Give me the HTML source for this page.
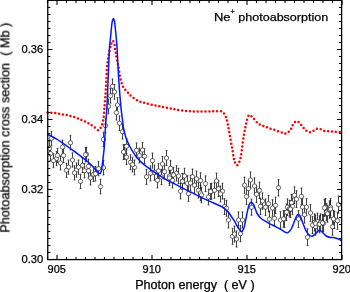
<!DOCTYPE html>
<html><head><meta charset="utf-8"><style>
html,body{margin:0;padding:0;background:#fff;width:350px;height:292px;overflow:hidden}
svg{display:block}
text{will-change:transform}
text{font-family:"Liberation Sans",sans-serif;fill:#000;stroke:#000;stroke-width:0.25px}
</style></head><body>
<svg width="350" height="292" viewBox="0 0 350 292">
<rect width="350" height="292" fill="#fff"/>
<path d="M47.50,112.50 C48.25,112.53 50.60,112.58 52.00,112.70 C53.40,112.82 54.62,113.00 55.90,113.20 C57.18,113.40 58.40,113.67 59.70,113.90 C61.00,114.13 62.42,114.38 63.70,114.60 C64.98,114.82 66.20,114.95 67.40,115.20 C68.60,115.45 69.67,115.75 70.90,116.10 C72.13,116.45 73.52,116.87 74.80,117.30 C76.08,117.73 77.25,118.13 78.60,118.70 C79.95,119.27 81.53,120.08 82.90,120.70 C84.27,121.32 85.57,121.77 86.80,122.40 C88.03,123.03 89.02,123.70 90.30,124.50 C91.58,125.30 93.17,126.25 94.50,127.20 C95.83,128.15 97.18,130.28 98.30,130.20 C99.42,130.12 100.48,128.00 101.20,126.70 C101.92,125.40 102.22,123.82 102.60,122.40 C102.98,120.98 103.27,119.62 103.50,118.20 C103.73,116.78 103.87,115.47 104.00,113.90 C104.13,112.33 104.17,110.65 104.30,108.80 C104.43,106.95 104.60,105.23 104.80,102.80 C105.00,100.37 105.30,97.05 105.50,94.20 C105.70,91.35 105.83,88.55 106.00,85.70 C106.17,82.85 106.37,79.95 106.50,77.10 C106.63,74.25 106.60,71.17 106.80,68.60 C107.00,66.03 107.45,63.63 107.70,61.70 C107.95,59.77 108.02,58.68 108.30,57.00 C108.58,55.32 109.03,53.35 109.40,51.60 C109.77,49.85 110.18,47.83 110.50,46.50 C110.82,45.17 110.92,44.55 111.30,43.60 C111.68,42.65 112.28,40.73 112.80,40.80 C113.32,40.87 114.02,42.62 114.40,44.00 C114.78,45.38 114.88,47.68 115.10,49.10 C115.32,50.52 115.48,51.22 115.70,52.50 C115.92,53.78 116.17,55.38 116.40,56.80 C116.63,58.22 116.83,59.72 117.10,61.00 C117.37,62.28 117.72,63.23 118.00,64.50 C118.28,65.77 118.52,66.78 118.80,68.60 C119.08,70.42 119.35,73.42 119.70,75.40 C120.05,77.38 120.48,78.93 120.90,80.50 C121.32,82.07 121.70,83.52 122.20,84.80 C122.70,86.08 123.07,87.02 123.90,88.20 C124.73,89.38 125.98,90.57 127.20,91.90 C128.42,93.23 129.35,94.70 131.20,96.20 C133.05,97.70 135.97,99.75 138.30,100.90 C140.63,102.05 142.63,102.40 145.20,103.10 C147.77,103.80 150.85,104.47 153.70,105.10 C156.55,105.73 159.43,106.32 162.30,106.90 C165.17,107.48 168.75,108.18 170.90,108.60 C173.05,109.02 173.35,109.08 175.20,109.40 C177.05,109.72 179.43,110.20 182.00,110.50 C184.57,110.80 188.03,111.03 190.60,111.20 C193.17,111.37 194.83,111.45 197.40,111.50 C199.97,111.55 203.28,111.53 206.00,111.50 C208.72,111.47 211.28,111.35 213.70,111.30 C216.12,111.25 218.87,110.92 220.50,111.20 C222.13,111.48 222.67,112.12 223.50,113.00 C224.33,113.88 224.98,115.50 225.50,116.50 C226.02,117.50 226.13,117.22 226.60,119.00 C227.07,120.78 227.77,124.50 228.30,127.20 C228.83,129.90 229.27,132.25 229.80,135.20 C230.33,138.15 231.03,142.28 231.50,144.90 C231.97,147.52 232.25,148.77 232.60,150.90 C232.95,153.03 233.23,155.85 233.60,157.70 C233.97,159.55 234.25,160.73 234.80,162.00 C235.35,163.27 236.18,165.25 236.90,165.30 C237.62,165.35 238.53,163.42 239.10,162.30 C239.67,161.18 239.95,159.93 240.30,158.60 C240.65,157.27 240.78,157.07 241.20,154.30 C241.62,151.53 242.25,145.77 242.80,142.00 C243.35,138.23 243.93,134.83 244.50,131.70 C245.07,128.57 245.70,125.48 246.20,123.20 C246.70,120.92 247.07,119.30 247.50,118.00 C247.93,116.70 248.30,115.80 248.80,115.40 C249.30,115.00 249.87,115.30 250.50,115.60 C251.13,115.90 251.77,116.32 252.60,117.20 C253.43,118.08 254.37,119.70 255.50,120.90 C256.63,122.10 258.08,123.53 259.40,124.40 C260.72,125.27 262.10,125.60 263.40,126.10 C264.70,126.60 265.95,126.95 267.20,127.40 C268.45,127.85 269.62,128.37 270.90,128.80 C272.18,129.23 273.52,129.52 274.90,130.00 C276.28,130.48 277.77,131.22 279.20,131.70 C280.63,132.18 282.27,132.62 283.50,132.90 C284.73,133.18 285.43,133.88 286.60,133.40 C287.77,132.92 289.57,131.22 290.50,130.00 C291.43,128.78 291.48,127.38 292.20,126.10 C292.92,124.82 294.02,123.05 294.80,122.30 C295.58,121.55 296.22,121.60 296.90,121.60 C297.58,121.60 297.98,121.47 298.90,122.30 C299.82,123.13 301.25,125.25 302.40,126.60 C303.55,127.95 304.58,129.48 305.80,130.40 C307.02,131.32 308.57,131.93 309.70,132.10 C310.83,132.27 311.45,131.95 312.60,131.40 C313.75,130.85 315.28,129.17 316.60,128.80 C317.92,128.43 319.22,128.85 320.50,129.20 C321.78,129.55 323.00,130.57 324.30,130.90 C325.60,131.23 326.95,131.12 328.30,131.20 C329.65,131.28 331.07,131.32 332.40,131.40 C333.73,131.48 334.78,131.58 336.30,131.70 C337.82,131.82 340.63,132.03 341.50,132.10" fill="none" stroke="#f00" stroke-width="2.5" stroke-linecap="round" stroke-dasharray="0 3.88"/>
<g stroke="#222" stroke-width="0.85" fill="none"><path d="M51.50,131.40V145.40M50.60,131.40H52.40M50.60,145.40H52.40M70.50,135.74V149.86M69.60,135.74H71.40M69.60,149.86H71.40M62.50,140.09V154.11M61.60,140.09H63.40M61.60,154.11H63.40M50.50,146.60V160.60M49.60,146.60H51.40M49.60,160.60H51.40M86.50,147.25V161.55M85.60,147.25H87.40M85.60,161.55H87.40M63.50,148.48V162.52M62.60,148.48H64.40M62.60,162.52H64.40M56.50,151.60V165.60M55.60,151.60H57.40M55.60,165.60H57.40M53.50,153.70V167.70M52.60,153.70H54.40M52.60,167.70H54.40M60.50,155.90V169.90M59.60,155.90H61.40M59.60,169.90H61.40M72.50,152.93V167.07M71.60,152.93H73.40M71.60,167.07H73.40M68.50,160.05V174.15M67.60,160.05H69.40M67.60,174.15H69.40M66.50,163.26V177.34M65.60,163.26H67.40M65.60,177.34H67.40M76.50,162.91V177.09M75.60,162.91H77.40M75.60,177.09H77.40M78.50,159.99V174.21M77.60,159.99H79.40M77.60,174.21H79.40M82.50,158.27V172.53M81.60,158.27H83.40M81.60,172.53H83.40M84.50,163.56V177.84M83.60,163.56H85.40M83.60,177.84H85.40M88.50,159.24V173.56M87.60,159.24H89.40M87.60,173.56H89.40M74.50,165.82V179.98M73.60,165.82H75.40M73.60,179.98H75.40M90.50,170.73V185.07M89.60,170.73H91.40M89.60,185.07H91.40M93.50,167.11V181.49M92.60,167.11H94.40M92.60,181.49H94.40M80.50,174.28V188.52M79.60,174.28H81.40M79.60,188.52H81.40M95.50,166.50V180.90M94.60,166.50H96.40M94.60,180.90H96.40M98.50,161.38V175.82M97.60,161.38H99.40M97.60,175.82H99.40M100.50,179.37V193.83M99.60,179.37H101.40M99.60,193.83H101.40M103.50,160.45V174.95M102.60,160.45H104.40M102.60,174.95H104.40M88.50,163.64V177.96M87.60,163.64H89.40M87.60,177.96H89.40M124.50,144.63V159.37M123.60,144.63H125.40M123.60,159.37H125.40M103.50,132.05V146.55M102.60,132.05H104.40M102.60,146.55H104.40M105.50,118.44V132.96M104.60,118.44H106.40M104.60,132.96H106.40M112.50,79.00V93.60M111.60,79.00H113.40M111.60,93.60H113.40M114.50,84.59V99.21M113.60,84.59H115.40M113.60,99.21H115.40M110.50,88.51V103.09M109.60,88.51H111.40M109.60,103.09H111.40M108.50,99.12V113.68M107.60,99.12H109.40M107.60,113.68H109.40M117.50,97.67V112.33M116.60,97.67H118.40M116.60,112.33H118.40M116.50,105.38V120.02M115.60,105.38H117.40M115.60,120.02H117.40M119.50,115.86V130.54M118.60,115.86H120.40M118.60,130.54H120.40M122.50,124.34V139.06M121.60,124.34H123.40M121.60,139.06H123.40M126.50,138.92V153.68M125.60,138.92H127.40M125.60,153.68H127.40M136.50,142.96V157.84M135.60,142.96H137.40M135.60,157.84H137.40M142.50,142.53V157.47M141.60,142.53H143.40M141.60,157.47H143.40M123.50,144.64V159.36M122.60,144.64H124.40M122.60,159.36H124.40M126.50,149.82V164.58M125.60,149.82H127.40M125.60,164.58H127.40M130.50,154.90V169.70M129.60,154.90H131.40M129.60,169.70H131.40M134.50,159.97V174.83M133.60,159.97H135.40M133.60,174.83H135.40M139.50,148.05V162.95M138.60,148.05H140.40M138.60,162.95H140.40M144.50,148.82V163.78M143.60,148.82H145.40M143.60,163.78H145.40M152.50,153.07V168.13M151.60,153.07H153.40M151.60,168.13H153.40M146.50,169.41V184.39M145.60,169.41H147.40M145.60,184.39H147.40M150.50,165.88V180.92M149.60,165.88H151.40M149.60,180.92H151.40M154.50,165.06V180.14M153.60,165.06H155.40M153.60,180.14H155.40M158.50,163.34V178.46M157.60,163.34H159.40M157.60,178.46H159.40M162.50,156.41V171.59M161.60,156.41H163.40M161.60,171.59H163.40M166.50,150.39V165.61M165.60,150.39H167.40M165.60,165.61H167.40M164.50,164.10V179.30M163.60,164.10H165.40M163.60,179.30H165.40M157.50,172.74V187.86M156.60,172.74H158.40M156.60,187.86H158.40M161.50,169.32V184.48M160.60,169.32H162.40M160.60,184.48H162.40M170.50,160.67V175.93M169.60,160.67H171.40M169.60,175.93H171.40M169.50,168.37V183.63M168.60,168.37H170.40M168.60,183.63H170.40M172.50,172.66V187.94M171.60,172.66H173.40M171.60,187.94H173.40M176.50,165.73V181.07M175.60,165.73H177.40M175.60,181.07H177.40M178.50,168.32V183.68M177.60,168.32H179.40M177.60,183.68H179.40M182.50,173.50V188.90M181.60,173.50H183.40M181.60,188.90H183.40M184.50,168.29V183.71M183.60,168.29H185.40M183.60,183.71H185.40M187.50,175.77V191.23M186.60,175.77H188.40M186.60,191.23H188.40M190.50,175.25V190.75M189.60,175.25H191.40M189.60,190.75H191.40M192.50,169.04V184.56M191.60,169.04H193.40M191.60,184.56H193.40M196.50,171.02V186.58M195.60,171.02H197.40M195.60,186.58H197.40M200.50,172.80V188.40M199.60,172.80H201.40M199.60,188.40H201.40M205.50,175.87V191.53M204.60,175.87H206.40M204.60,191.53H206.40M216.50,173.11V188.89M215.60,173.11H217.40M215.60,188.89H217.40M180.50,183.51V198.89M179.60,183.51H181.40M179.60,198.89H181.40M188.50,185.97V201.43M187.60,185.97H189.40M187.60,201.43H189.40M194.50,177.43V192.97M193.60,177.43H195.40M193.60,192.97H195.40M198.50,182.51V198.09M197.60,182.51H199.40M197.60,198.09H199.40M211.50,183.33V199.07M210.60,183.33H212.40M210.60,199.07H212.40M214.50,182.42V198.18M213.60,182.42H215.40M213.60,198.18H215.40M218.50,180.69V196.51M217.60,180.69H219.40M217.60,196.51H219.40M222.50,183.27V199.13M221.60,183.27H223.40M221.60,199.13H223.40M224.50,198.66V214.54M223.60,198.66H225.40M223.60,214.54H225.40M226.50,200.35V216.25M225.60,200.35H227.40M225.60,216.25H227.40M244.50,177.15V193.25M243.60,177.15H245.40M243.60,193.25H245.40M250.50,171.91V188.09M249.60,171.91H251.40M249.60,188.09H251.40M248.50,180.52V196.68M247.60,180.52H249.40M247.60,196.68H249.40M254.50,177.89V194.11M253.60,177.89H255.40M253.60,194.11H255.40M259.50,182.16V198.44M258.60,182.16H260.40M258.60,198.44H260.40M256.50,186.18V202.42M255.60,186.18H257.40M255.60,202.42H257.40M246.50,188.43V204.57M245.60,188.43H247.40M245.60,204.57H247.40M278.50,179.45V195.95M277.60,179.45H279.40M277.60,195.95H279.40M228.50,212.04V227.96M227.60,212.04H229.40M227.60,227.96H229.40M232.50,228.31V244.29M231.60,228.31H233.40M231.60,244.29H233.40M236.50,230.99V247.01M235.60,230.99H237.40M235.60,247.01H237.40M234.50,226.00V242.00M233.60,226.00H235.40M233.60,242.00H235.40M240.50,225.67V241.73M239.60,225.67H241.40M239.60,241.73H241.40M238.50,211.98V228.02M237.60,211.98H239.40M237.60,228.02H239.40M242.50,211.96V228.04M241.60,211.96H243.40M241.60,228.04H243.40M251.50,199.11V215.29M250.60,199.11H252.40M250.60,215.29H252.40M260.50,198.15V214.45M259.60,198.15H261.40M259.60,214.45H261.40M265.50,199.03V215.37M264.60,199.03H266.40M264.60,215.37H266.40M268.50,195.51V211.89M267.60,195.51H269.40M267.60,211.89H269.40M272.50,199.79V216.21M271.60,199.79H273.40M271.60,216.21H273.40M275.50,197.17V213.63M274.60,197.17H276.40M274.60,213.63H276.40M269.50,211.00V227.40M268.60,211.00H270.40M268.60,227.40H270.40M274.50,210.07V226.53M273.60,210.07H275.40M273.60,226.53H275.40M280.50,211.74V228.26M279.60,211.74H281.40M279.60,228.26H281.40M294.50,186.86V203.54M293.60,186.86H295.40M293.60,203.54H295.40M296.50,190.75V207.45M295.60,190.75H297.40M295.60,207.45H297.40M301.50,188.02V204.78M300.60,188.02H302.40M300.60,204.78H302.40M287.50,198.90V215.50M286.60,198.90H288.40M286.60,215.50H288.40M292.50,197.97V214.63M291.60,197.97H293.40M291.60,214.63H293.40M302.50,198.71V215.49M301.60,198.71H303.40M301.60,215.49H303.40M306.50,198.69V215.51M305.60,198.69H307.40M305.60,215.51H307.40M325.50,198.68V215.72M324.60,198.68H326.40M324.60,215.72H326.40M330.50,198.65V215.75M329.60,198.65H331.40M329.60,215.75H331.40M338.50,196.01V213.19M337.60,196.01H339.40M337.60,213.19H339.40M291.50,194.38V211.02M290.60,194.38H292.40M290.60,211.02H292.40M289.50,200.39V217.01M288.60,200.39H290.40M288.60,217.01H290.40M286.50,203.91V220.49M285.60,203.91H287.40M285.60,220.49H287.40M284.50,210.72V227.28M283.60,210.72H285.40M283.60,227.28H285.40M298.50,210.64V227.36M297.60,210.64H299.40M297.60,227.36H299.40M304.50,206.30V223.10M303.60,206.30H305.40M303.60,223.10H305.40M310.50,204.57V221.43M309.60,204.57H311.40M309.60,221.43H311.40M307.50,228.79V245.61M306.60,228.79H308.40M306.60,245.61H308.40M314.50,213.95V230.85M313.60,213.95H315.40M313.60,230.85H315.40M317.50,213.13V230.07M316.60,213.13H318.40M316.60,230.07H318.40M320.50,213.91V230.89M319.60,213.91H321.40M319.60,230.89H321.40M323.50,214.79V231.81M322.60,214.79H324.40M322.60,231.81H324.40M315.50,218.24V235.16M314.60,218.24H316.40M314.60,235.16H316.40M324.50,199.39V216.41M323.60,199.39H325.40M323.60,216.41H325.40M326.50,203.68V220.72M325.60,203.68H327.40M325.60,220.72H327.40M329.50,201.06V218.14M328.60,201.06H330.40M328.60,218.14H330.40M332.50,218.14V235.26M331.60,218.14H333.40M331.60,235.26H333.40M334.50,211.33V228.47M333.60,211.33H335.40M333.60,228.47H335.40M337.50,212.11V229.29M336.60,212.11H338.40M336.60,229.29H338.40M262.50,192.94V209.26M261.60,192.94H263.40M261.60,209.26H263.40M312.50,216.66V233.54M311.60,216.66H313.40M311.60,233.54H313.40M315.50,214.94V231.86M314.60,214.94H316.40M314.60,231.86H316.40M319.50,215.82V232.78M318.60,215.82H320.40M318.60,232.78H320.40M322.50,214.40V231.40M321.60,214.40H323.40M321.60,231.40H323.40M327.50,205.17V222.23M326.60,205.17H328.40M326.60,222.23H328.40M330.50,200.55V217.65M329.60,200.55H331.40M329.60,217.65H331.40M333.50,210.34V227.46M332.60,210.34H334.40M332.60,227.46H334.40M283.50,210.62V227.18M282.60,210.62H284.40M282.60,227.18H284.40M290.50,200.78V217.42M289.60,200.78H291.40M289.60,217.42H291.40M210.50,183.74V199.46M209.60,183.74H211.40M209.60,199.46H211.40M220.50,185.98V201.82M219.60,185.98H221.40M219.60,201.82H221.40M208.50,189.15V204.85M207.60,189.15H209.40M207.60,204.85H209.40M200.50,185.20V200.80M199.60,185.20H201.40M199.60,200.80H201.40M201.50,187.19V202.81M200.60,187.19H202.40M200.60,202.81H202.40M49.50,141.30V155.30M48.60,141.30H50.40M48.60,155.30H50.40M57.50,148.40V162.40M56.60,148.40H58.40M56.60,162.40H58.40M85.50,147.45V161.75M84.60,147.45H86.40M84.60,161.75H86.40M132.50,157.19V172.01M131.60,157.19H133.40M131.60,172.01H133.40M173.50,167.35V182.65M172.60,167.35H174.40M172.60,182.65H174.40M169.50,170.27V185.53M168.60,170.27H170.40M168.60,185.53H170.40M182.50,173.70V189.10M181.60,173.70H183.40M181.60,189.10H183.40"/></g>
<g fill="#fff" stroke="#2a2a2a" stroke-width="0.7"><circle cx="51.50" cy="138.40" r="2.15"/><circle cx="70.50" cy="142.80" r="2.15"/><circle cx="62.50" cy="147.10" r="2.15"/><circle cx="50.50" cy="153.60" r="2.15"/><circle cx="86.50" cy="154.40" r="2.15"/><circle cx="63.50" cy="155.50" r="2.15"/><circle cx="56.50" cy="158.60" r="2.15"/><circle cx="53.50" cy="160.70" r="2.15"/><circle cx="60.50" cy="162.90" r="2.15"/><circle cx="72.50" cy="160.00" r="2.15"/><circle cx="68.50" cy="167.10" r="2.15"/><circle cx="66.50" cy="170.30" r="2.15"/><circle cx="76.50" cy="170.00" r="2.15"/><circle cx="78.50" cy="167.10" r="2.15"/><circle cx="82.50" cy="165.40" r="2.15"/><circle cx="84.50" cy="170.70" r="2.15"/><circle cx="88.50" cy="166.40" r="2.15"/><circle cx="74.50" cy="172.90" r="2.15"/><circle cx="90.50" cy="177.90" r="2.15"/><circle cx="93.50" cy="174.30" r="2.15"/><circle cx="80.50" cy="181.40" r="2.15"/><circle cx="95.50" cy="173.70" r="2.15"/><circle cx="98.50" cy="168.60" r="2.15"/><circle cx="100.50" cy="186.60" r="2.15"/><circle cx="103.50" cy="167.70" r="2.15"/><circle cx="88.50" cy="170.80" r="2.15"/><circle cx="124.50" cy="152.00" r="2.15"/><circle cx="103.50" cy="139.30" r="2.15"/><circle cx="105.50" cy="125.70" r="2.15"/><circle cx="112.50" cy="86.30" r="2.15"/><circle cx="114.50" cy="91.90" r="2.15"/><circle cx="110.50" cy="95.80" r="2.15"/><circle cx="108.50" cy="106.40" r="2.15"/><circle cx="117.50" cy="105.00" r="2.15"/><circle cx="116.50" cy="112.70" r="2.15"/><circle cx="119.50" cy="123.20" r="2.15"/><circle cx="122.50" cy="131.70" r="2.15"/><circle cx="126.50" cy="146.30" r="2.15"/><circle cx="136.50" cy="150.40" r="2.15"/><circle cx="142.50" cy="150.00" r="2.15"/><circle cx="123.50" cy="152.00" r="2.15"/><circle cx="126.50" cy="157.20" r="2.15"/><circle cx="130.50" cy="162.30" r="2.15"/><circle cx="134.50" cy="167.40" r="2.15"/><circle cx="139.50" cy="155.50" r="2.15"/><circle cx="144.50" cy="156.30" r="2.15"/><circle cx="152.50" cy="160.60" r="2.15"/><circle cx="146.50" cy="176.90" r="2.15"/><circle cx="150.50" cy="173.40" r="2.15"/><circle cx="154.50" cy="172.60" r="2.15"/><circle cx="158.50" cy="170.90" r="2.15"/><circle cx="162.50" cy="164.00" r="2.15"/><circle cx="166.50" cy="158.00" r="2.15"/><circle cx="164.50" cy="171.70" r="2.15"/><circle cx="157.50" cy="180.30" r="2.15"/><circle cx="161.50" cy="176.90" r="2.15"/><circle cx="170.50" cy="168.30" r="2.15"/><circle cx="169.50" cy="176.00" r="2.15"/><circle cx="172.50" cy="180.30" r="2.15"/><circle cx="176.50" cy="173.40" r="2.15"/><circle cx="178.50" cy="176.00" r="2.15"/><circle cx="182.50" cy="181.20" r="2.15"/><circle cx="184.50" cy="176.00" r="2.15"/><circle cx="187.50" cy="183.50" r="2.15"/><circle cx="190.50" cy="183.00" r="2.15"/><circle cx="192.50" cy="176.80" r="2.15"/><circle cx="196.50" cy="178.80" r="2.15"/><circle cx="200.50" cy="180.60" r="2.15"/><circle cx="205.50" cy="183.70" r="2.15"/><circle cx="216.50" cy="181.00" r="2.15"/><circle cx="180.50" cy="191.20" r="2.15"/><circle cx="188.50" cy="193.70" r="2.15"/><circle cx="194.50" cy="185.20" r="2.15"/><circle cx="198.50" cy="190.30" r="2.15"/><circle cx="211.50" cy="191.20" r="2.15"/><circle cx="214.50" cy="190.30" r="2.15"/><circle cx="218.50" cy="188.60" r="2.15"/><circle cx="222.50" cy="191.20" r="2.15"/><circle cx="224.50" cy="206.60" r="2.15"/><circle cx="226.50" cy="208.30" r="2.15"/><circle cx="244.50" cy="185.20" r="2.15"/><circle cx="250.50" cy="180.00" r="2.15"/><circle cx="248.50" cy="188.60" r="2.15"/><circle cx="254.50" cy="186.00" r="2.15"/><circle cx="259.50" cy="190.30" r="2.15"/><circle cx="256.50" cy="194.30" r="2.15"/><circle cx="246.50" cy="196.50" r="2.15"/><circle cx="278.50" cy="187.70" r="2.15"/><circle cx="228.50" cy="220.00" r="2.15"/><circle cx="232.50" cy="236.30" r="2.15"/><circle cx="236.50" cy="239.00" r="2.15"/><circle cx="234.50" cy="234.00" r="2.15"/><circle cx="240.50" cy="233.70" r="2.15"/><circle cx="238.50" cy="220.00" r="2.15"/><circle cx="242.50" cy="220.00" r="2.15"/><circle cx="251.50" cy="207.20" r="2.15"/><circle cx="260.50" cy="206.30" r="2.15"/><circle cx="265.50" cy="207.20" r="2.15"/><circle cx="268.50" cy="203.70" r="2.15"/><circle cx="272.50" cy="208.00" r="2.15"/><circle cx="275.50" cy="205.40" r="2.15"/><circle cx="269.50" cy="219.20" r="2.15"/><circle cx="274.50" cy="218.30" r="2.15"/><circle cx="280.50" cy="220.00" r="2.15"/><circle cx="294.50" cy="195.20" r="2.15"/><circle cx="296.50" cy="199.10" r="2.15"/><circle cx="301.50" cy="196.40" r="2.15"/><circle cx="287.50" cy="207.20" r="2.15"/><circle cx="292.50" cy="206.30" r="2.15"/><circle cx="302.50" cy="207.10" r="2.15"/><circle cx="306.50" cy="207.10" r="2.15"/><circle cx="325.50" cy="207.20" r="2.15"/><circle cx="330.50" cy="207.20" r="2.15"/><circle cx="338.50" cy="204.60" r="2.15"/><circle cx="291.50" cy="202.70" r="2.15"/><circle cx="289.50" cy="208.70" r="2.15"/><circle cx="286.50" cy="212.20" r="2.15"/><circle cx="284.50" cy="219.00" r="2.15"/><circle cx="298.50" cy="219.00" r="2.15"/><circle cx="304.50" cy="214.70" r="2.15"/><circle cx="310.50" cy="213.00" r="2.15"/><circle cx="307.50" cy="237.20" r="2.15"/><circle cx="314.50" cy="222.40" r="2.15"/><circle cx="317.50" cy="221.60" r="2.15"/><circle cx="320.50" cy="222.40" r="2.15"/><circle cx="323.50" cy="223.30" r="2.15"/><circle cx="315.50" cy="226.70" r="2.15"/><circle cx="324.50" cy="207.90" r="2.15"/><circle cx="326.50" cy="212.20" r="2.15"/><circle cx="329.50" cy="209.60" r="2.15"/><circle cx="332.50" cy="226.70" r="2.15"/><circle cx="334.50" cy="219.90" r="2.15"/><circle cx="337.50" cy="220.70" r="2.15"/><circle cx="262.50" cy="201.10" r="2.15"/><circle cx="312.50" cy="225.10" r="2.15"/><circle cx="315.50" cy="223.40" r="2.15"/><circle cx="319.50" cy="224.30" r="2.15"/><circle cx="322.50" cy="222.90" r="2.15"/><circle cx="327.50" cy="213.70" r="2.15"/><circle cx="330.50" cy="209.10" r="2.15"/><circle cx="333.50" cy="218.90" r="2.15"/><circle cx="283.50" cy="218.90" r="2.15"/><circle cx="290.50" cy="209.10" r="2.15"/><circle cx="210.50" cy="191.60" r="2.15"/><circle cx="220.50" cy="193.90" r="2.15"/><circle cx="208.50" cy="197.00" r="2.15"/><circle cx="200.50" cy="193.00" r="2.15"/><circle cx="201.50" cy="195.00" r="2.15"/><circle cx="49.50" cy="148.30" r="2.15"/><circle cx="57.50" cy="155.40" r="2.15"/><circle cx="85.50" cy="154.60" r="2.15"/><circle cx="132.50" cy="164.60" r="2.15"/><circle cx="173.50" cy="175.00" r="2.15"/><circle cx="169.50" cy="177.90" r="2.15"/><circle cx="182.50" cy="181.40" r="2.15"/></g>
<path d="M47.50,134.20 C48.97,134.98 53.82,137.45 56.30,138.90 C58.78,140.35 60.18,141.38 62.40,142.90 C64.62,144.42 67.45,146.45 69.60,148.00 C71.75,149.55 73.57,150.92 75.30,152.20 C77.03,153.48 78.22,154.35 80.00,155.70 C81.78,157.05 83.87,158.50 86.00,160.30 C88.13,162.10 90.95,164.62 92.80,166.50 C94.65,168.38 95.90,170.38 97.10,171.60 C98.30,172.82 99.30,173.90 100.00,173.80 C100.70,173.70 100.93,172.37 101.30,171.00 C101.67,169.63 101.88,167.93 102.20,165.60 C102.52,163.27 102.87,159.93 103.20,157.00 C103.53,154.07 103.90,151.67 104.20,148.00 C104.50,144.33 104.73,139.33 105.00,135.00 C105.27,130.67 105.50,126.23 105.80,122.00 C106.10,117.77 106.52,114.23 106.80,109.60 C107.08,104.97 107.27,99.62 107.50,94.20 C107.73,88.78 107.97,82.80 108.20,77.10 C108.43,71.40 108.70,64.82 108.90,60.00 C109.10,55.18 109.17,51.58 109.40,48.20 C109.63,44.82 110.02,42.55 110.30,39.70 C110.58,36.85 110.83,33.78 111.10,31.10 C111.37,28.42 111.65,25.42 111.90,23.60 C112.15,21.78 112.37,21.03 112.60,20.20 C112.83,19.37 113.05,18.67 113.30,18.60 C113.55,18.53 113.85,18.97 114.10,19.80 C114.35,20.63 114.55,21.72 114.80,23.60 C115.05,25.48 115.33,28.42 115.60,31.10 C115.87,33.78 116.15,36.85 116.40,39.70 C116.65,42.55 116.88,44.82 117.10,48.20 C117.32,51.58 117.45,55.18 117.70,60.00 C117.95,64.82 118.25,71.40 118.60,77.10 C118.95,82.80 119.37,88.78 119.80,94.20 C120.23,99.62 120.75,105.30 121.20,109.60 C121.65,113.90 122.10,116.85 122.50,120.00 C122.90,123.15 123.12,125.83 123.60,128.50 C124.08,131.17 124.82,134.00 125.40,136.00 C125.98,138.00 126.52,139.07 127.10,140.50 C127.68,141.93 128.18,143.13 128.90,144.60 C129.62,146.07 130.12,147.20 131.40,149.30 C132.68,151.40 134.60,154.73 136.60,157.20 C138.60,159.67 141.12,162.08 143.40,164.10 C145.68,166.12 147.72,167.45 150.30,169.30 C152.88,171.15 156.03,173.37 158.90,175.20 C161.77,177.03 164.65,178.73 167.50,180.30 C170.35,181.87 172.72,182.93 176.00,184.60 C179.28,186.27 182.48,187.92 187.20,190.30 C191.92,192.68 198.58,196.18 204.30,198.90 C210.02,201.62 217.88,204.78 221.50,206.60 C225.12,208.42 224.73,208.70 226.00,209.80 C227.27,210.90 227.72,211.35 229.10,213.20 C230.48,215.05 232.87,218.62 234.30,220.90 C235.73,223.18 236.55,225.13 237.70,226.90 C238.85,228.67 240.20,231.22 241.20,231.50 C242.20,231.78 242.98,230.35 243.70,228.60 C244.42,226.85 244.92,223.72 245.50,221.00 C246.08,218.28 246.62,214.97 247.20,212.30 C247.78,209.63 248.43,206.67 249.00,205.00 C249.57,203.33 250.05,202.67 250.60,202.30 C251.15,201.93 251.73,202.28 252.30,202.80 C252.87,203.32 253.43,204.20 254.00,205.40 C254.57,206.60 255.13,208.57 255.70,210.00 C256.27,211.43 256.53,212.62 257.40,214.00 C258.27,215.38 259.80,217.23 260.90,218.30 C262.00,219.37 262.48,219.48 264.00,220.40 C265.52,221.32 268.00,222.73 270.00,223.80 C272.00,224.87 274.00,225.73 276.00,226.80 C278.00,227.87 280.10,229.20 282.00,230.20 C283.90,231.20 285.82,233.08 287.40,232.80 C288.98,232.52 290.22,230.72 291.50,228.50 C292.78,226.28 294.08,221.82 295.10,219.50 C296.12,217.18 296.77,215.15 297.60,214.60 C298.43,214.05 299.22,214.77 300.10,216.20 C300.98,217.63 301.87,220.67 302.90,223.20 C303.93,225.73 305.17,229.35 306.30,231.40 C307.43,233.45 308.67,234.73 309.70,235.50 C310.73,236.27 311.47,236.35 312.50,236.00 C313.53,235.65 314.77,234.37 315.90,233.40 C317.03,232.43 318.17,230.32 319.30,230.20 C320.43,230.08 321.55,231.73 322.70,232.70 C323.85,233.67 324.93,235.20 326.20,236.00 C327.47,236.80 328.93,237.22 330.30,237.50 C331.67,237.78 333.03,237.45 334.40,237.70 C335.77,237.95 337.30,238.52 338.50,239.00 C339.70,239.48 341.08,240.33 341.60,240.60" fill="none" stroke="#0018ff" stroke-width="1.5" stroke-linejoin="round"/>
<rect x="47.75" y="0.3" width="293.85" height="259.3" fill="none" stroke="#000" stroke-width="1.3"/>
<path d="M47.50,259.60V257.00M47.50,0.30V2.90M57.00,259.60V254.90M57.00,0.30V5.00M66.50,259.60V257.00M66.50,0.30V2.90M76.00,259.60V257.00M76.00,0.30V2.90M85.50,259.60V257.00M85.50,0.30V2.90M95.00,259.60V257.00M95.00,0.30V2.90M104.50,259.60V257.00M104.50,0.30V2.90M114.00,259.60V257.00M114.00,0.30V2.90M123.50,259.60V257.00M123.50,0.30V2.90M133.00,259.60V257.00M133.00,0.30V2.90M142.50,259.60V257.00M142.50,0.30V2.90M152.00,259.60V254.90M152.00,0.30V5.00M161.50,259.60V257.00M161.50,0.30V2.90M171.00,259.60V257.00M171.00,0.30V2.90M180.50,259.60V257.00M180.50,0.30V2.90M190.00,259.60V257.00M190.00,0.30V2.90M199.50,259.60V257.00M199.50,0.30V2.90M209.00,259.60V257.00M209.00,0.30V2.90M218.50,259.60V257.00M218.50,0.30V2.90M228.00,259.60V257.00M228.00,0.30V2.90M237.50,259.60V257.00M237.50,0.30V2.90M247.00,259.60V254.90M247.00,0.30V5.00M256.50,259.60V257.00M256.50,0.30V2.90M266.00,259.60V257.00M266.00,0.30V2.90M275.50,259.60V257.00M275.50,0.30V2.90M285.00,259.60V257.00M285.00,0.30V2.90M294.50,259.60V257.00M294.50,0.30V2.90M304.00,259.60V257.00M304.00,0.30V2.90M313.50,259.60V257.00M313.50,0.30V2.90M323.00,259.60V257.00M323.00,0.30V2.90M332.50,259.60V257.00M332.50,0.30V2.90M342.00,259.60V254.90M342.00,0.30V5.00M47.75,259.50H52.45M341.60,259.50H336.90M47.75,252.50H50.35M341.60,252.50H339.00M47.75,245.50H50.35M341.60,245.50H339.00M47.75,238.50H50.35M341.60,238.50H339.00M47.75,231.50H50.35M341.60,231.50H339.00M47.75,224.50H50.35M341.60,224.50H339.00M47.75,217.50H50.35M341.60,217.50H339.00M47.75,210.50H50.35M341.60,210.50H339.00M47.75,203.50H50.35M341.60,203.50H339.00M47.75,196.50H50.35M341.60,196.50H339.00M47.75,189.50H52.45M341.60,189.50H336.90M47.75,182.50H50.35M341.60,182.50H339.00M47.75,175.50H50.35M341.60,175.50H339.00M47.75,168.50H50.35M341.60,168.50H339.00M47.75,161.50H50.35M341.60,161.50H339.00M47.75,154.50H50.35M341.60,154.50H339.00M47.75,147.50H50.35M341.60,147.50H339.00M47.75,140.50H50.35M341.60,140.50H339.00M47.75,133.50H50.35M341.60,133.50H339.00M47.75,126.50H50.35M341.60,126.50H339.00M47.75,119.50H52.45M341.60,119.50H336.90M47.75,112.50H50.35M341.60,112.50H339.00M47.75,105.50H50.35M341.60,105.50H339.00M47.75,98.50H50.35M341.60,98.50H339.00M47.75,91.50H50.35M341.60,91.50H339.00M47.75,84.50H50.35M341.60,84.50H339.00M47.75,77.50H50.35M341.60,77.50H339.00M47.75,70.50H50.35M341.60,70.50H339.00M47.75,63.50H50.35M341.60,63.50H339.00M47.75,56.50H50.35M341.60,56.50H339.00M47.75,49.50H52.45M341.60,49.50H336.90M47.75,42.50H50.35M341.60,42.50H339.00M47.75,35.50H50.35M341.60,35.50H339.00M47.75,28.50H50.35M341.60,28.50H339.00M47.75,21.50H50.35M341.60,21.50H339.00M47.75,14.50H50.35M341.60,14.50H339.00M47.75,7.50H50.35M341.60,7.50H339.00M47.75,0.50H50.35M341.60,0.50H339.00" stroke="#000" stroke-width="1.1" fill="none"/>
<g font-size="11.2" text-anchor="end">
<text x="43.2" y="52.9">0.36</text>
<text x="43.2" y="122.9">0.34</text>
<text x="43.2" y="192.9">0.32</text>
<text x="43.2" y="262.9">0.30</text>
</g>
<g font-size="11" text-anchor="middle">
<text x="56.70" y="273.2">905</text>
<text x="151.70" y="273.2">910</text>
<text x="246.70" y="273.2">915</text>
<text x="341.70" y="273.2">920</text>
</g>
<text x="135.2" y="288.9" font-size="12" textLength="119.5" lengthAdjust="spacingAndGlyphs" xml:space="preserve">Photon energy  ( eV )</text>
<text transform="translate(9.3,232.7) rotate(-90)" font-size="12.4" textLength="210" lengthAdjust="spacingAndGlyphs" xml:space="preserve">Photoabsorption cross section  ( Mb )</text>
<text x="214" y="20.5" font-size="11.7" textLength="16.6" lengthAdjust="spacingAndGlyphs">Ne</text>
<text x="230.5" y="13.6" font-size="7">+</text>
<text x="238.3" y="20.5" font-size="11.7" textLength="89.9" lengthAdjust="spacingAndGlyphs">photoabsorption</text>
</svg>
</body></html>
